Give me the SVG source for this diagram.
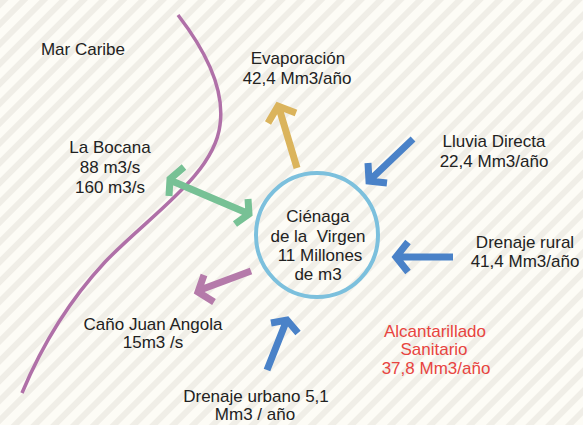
<svg xmlns="http://www.w3.org/2000/svg" width="583" height="425" viewBox="0 0 583 425">
<defs>
<pattern id="stripes" width="14" height="14" patternUnits="userSpaceOnUse" patternTransform="rotate(45)">
<rect width="14" height="14" fill="#fdfcf6"/>
<rect width="6" height="14" fill="#f0eee7"/>
</pattern>
<style>
text{font-family:"Liberation Sans",Arial,sans-serif;font-size:17px;fill:#222;text-anchor:middle}
.red{fill:#e8443f}
.arr{fill:none;stroke-width:7;stroke-linecap:butt;stroke-linejoin:miter}
.gold{stroke:#dbb45c}.green{stroke:#77c195}.blue{stroke:#4a82c8}.purple{stroke:#b57aaa}
</style>
</defs>
<rect width="583" height="425" fill="url(#stripes)"/>
<path id="coast" d="M178,15 C205,50 225,90 220,125 C214,175 150,215 105,262 C65,305 40,350 22,393" fill="none" stroke="#b070a8" stroke-width="3.5"/>
<g id="connectors">
<path class="arr gold" d="M297,168 L279,108 M268,123 L278,106 L296,113"/>
<path class="arr green" d="M172,181 L247,213 M184,167 L170,179 L169,196 M248,199 L249,214 L235,224"/>
<path class="arr blue" d="M413,139 L371,179 M368,163 L369,181 L387,183"/>
<path class="arr blue" d="M453,257 L398,257 M408,242 L396,257 L408,272"/>
<path class="arr purple" d="M251,271 L200,290 M204,275 L198,292 L214,302"/>
<path class="arr blue" d="M267,370 L286,322 M271,323 L287,320 L298,333"/>
</g>
<g id="cienaga">
<ellipse cx="317" cy="235" rx="61" ry="62" fill="none" stroke="#7cc0dd" stroke-width="4"/>
<text x="318" y="222">Ciénaga</text>
<text x="318" y="242" xml:space="preserve">de la  Virgen</text>
<text x="320" y="261">11 Millones</text>
<text x="318" y="280">de m3</text>
</g>
<g id="mar-caribe"><text x="83" y="55">Mar Caribe</text></g>
<g id="evaporacion"><text x="298" y="64">Evaporación</text><text x="297" y="84">42,4 Mm3/año</text></g>
<g id="la-bocana"><text x="110" y="153">La Bocana</text><text x="110" y="173">88 m3/s</text><text x="110" y="193">160 m3/s</text></g>
<g id="lluvia"><text x="494" y="147">Lluvia Directa</text><text x="494" y="167">22,4 Mm3/año</text></g>
<g id="drenaje-rural"><text x="525" y="248">Drenaje rural</text><text x="525" y="267">41,4 Mm3/año</text></g>
<g id="cano"><text x="153" y="330">Caño Juan Angola</text><text x="153" y="348">15m3 /s</text></g>
<g id="drenaje-urbano"><text x="256" y="402">Drenaje urbano 5,1</text><text x="255" y="420">Mm3 / año</text></g>
<g id="alcantarillado"><text class="red" x="435" y="337">Alcantarillado</text><text class="red" x="434" y="355">Sanitario</text><text class="red" x="436" y="374">37,8 Mm3/año</text></g>
</svg>
